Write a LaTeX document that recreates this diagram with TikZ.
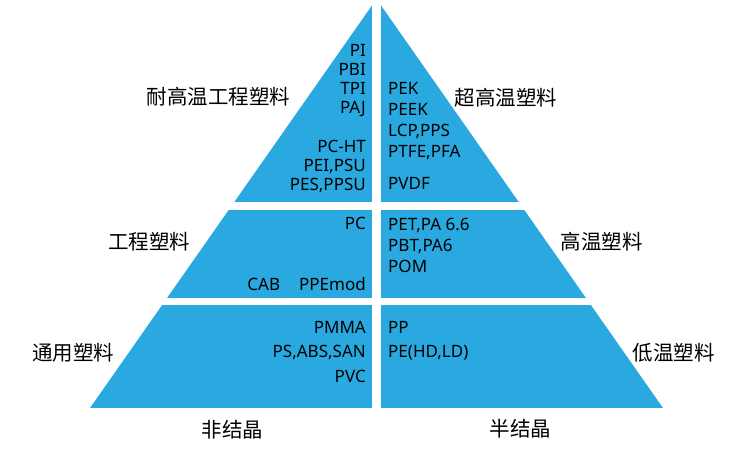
\documentclass[tikz,border=0pt]{standalone}
\usepackage{fontspec}
\setmainfont{Noto Sans}
\newfontfamily\cjk{Noto Sans CJK SC}
\def\pyramid{(90,408) -- (376.5,-1) -- (663,408) -- cycle}
\definecolor{pyramid blue}{RGB}{41,169,224}
\tikzset{
  piece/.style={fill=pyramid blue},
  grade/.style={font=\cjk\fontsize{20.5}{24}\selectfont, inner sep=0pt},
  lresins/.style={font=\fontsize{17}{#1}\selectfont, inner sep=0pt, align=right, anchor=base east},
  rresins/.style={font=\fontsize{17}{#1}\selectfont, inner sep=0pt, align=left, anchor=base west}
}

\begin{document}
\begin{tikzpicture}[x=1pt, y=-1pt]
    \useasboundingbox (0,0) rectangle (750,450);
    \begin{scope}
      \clip \pyramid;
      \foreach \ya/\yb in {-1/202, 210/298, 305/408} {
        \fill[piece] (0,\ya) rectangle (372,\yb);
        \fill[piece] (381,\ya) rectangle (750,\yb);
      }
    \end{scope}
    % left half (anchored at the last line)
    \node[lresins=19] (heat a) at (366,113) {PI\\PBI\\TPI\\PAJ};
    \node[lresins=19] (heat b) at (366,190) {PC-HT\\PEI,PSU\\PES,PPSU};
    \node[lresins=19] (eng a) at (366,229) {PC};
    \node[lresins=19] (eng b) at (366,290) {CAB\hspace{19pt}PPEmod};
    \node[lresins=24.5] (common) at (366,382) {PMMA\\PS,ABS,SAN\\PVC};
    % right half
    \node[rresins=20.7] (super a) at (388,157) {PEK\\PEEK\\LCP,PPS\\PTFE,PFA};
    \node[rresins=19] (super b) at (388,189) {PVDF};
    \node[rresins=21] (hot) at (388,272) {PET,PA 6.6\\PBT,PA6\\POM};
    \node[rresins=24] (low) at (388,357) {PP\\PE(HD,LD)};
    % grades
    \node[grade] (heat eng) at (218.5,97) {耐高温工程塑料};
    \node[grade] (super hot) at (506,98) {超高温塑料};
    \node[grade] (engineering) at (149,242) {工程塑料};
    \node[grade] (high temp) at (601.5,242) {高温塑料};
    \node[grade] (general) at (73,353) {通用塑料};
    \node[grade] (low temp) at (673.5,353) {低温塑料};
    \node[grade] (amorphous) at (232.5,430) {非结晶};
    \node[grade] (semicryst) at (520.5,429) {半结晶};
\end{tikzpicture}
\end{document}
